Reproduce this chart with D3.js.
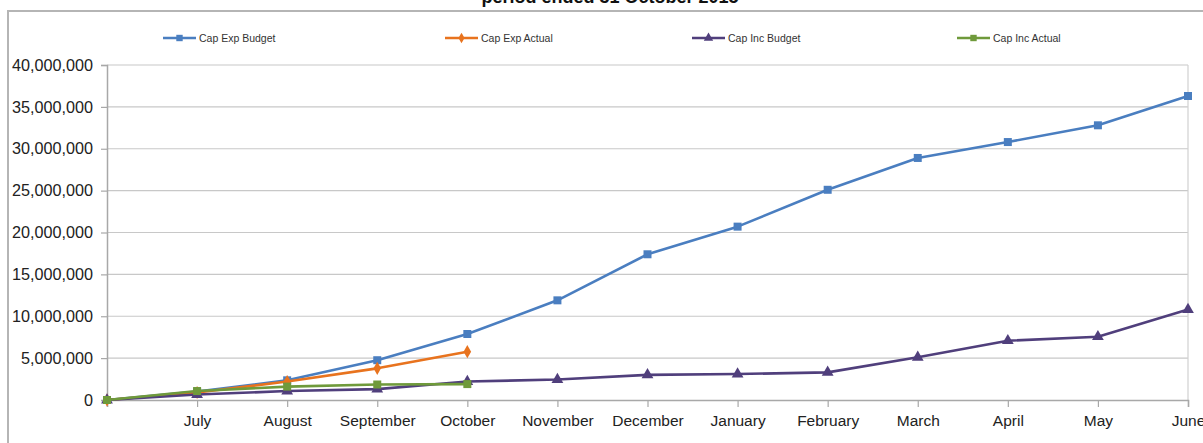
<!DOCTYPE html>
<html>
<head>
<meta charset="utf-8">
<script src="https://cdn.jsdelivr.net/npm/d3@7"></script>
<style>
  html, body { margin: 0; padding: 0; background: #fff; }
  svg { display: block; font-family: "Liberation Sans", Arial, sans-serif; }
</style>
</head>
<body>
<svg id="chart" width="1203" height="443"></svg>
<script>
// Cumulative capital expenditure and income, budget vs actual, by month
const months = ["", "July", "August", "September", "October", "November", "December",
                "January", "February", "March", "April", "May", "June"];

const capExpBudget = [0, 1000000, 2350000, 4750000, 7880000, 11900000, 17400000,
                      20700000, 25100000, 28900000, 30800000, 32800000, 36300000];
const capExpActual = [0, 900000, 2200000, 3780000, 5770000, null, null,
                      null, null, null, null, null, null];
const capIncBudget = [0, 650000, 1070000, 1300000, 2200000, 2450000, 3000000,
                      3100000, 3300000, 5100000, 7080000, 7560000, 10800000];
const capIncActual = [0, 1070000, 1600000, 1850000, 1900000, null, null,
                      null, null, null, null, null, null];

const yTicks = [0, 5000000, 10000000, 15000000, 20000000, 25000000, 30000000, 35000000, 40000000];

const seriesNames = ["Cap Exp Budget", "Cap Exp Actual", "Cap Inc Budget", "Cap Inc Actual"];
const seriesColors = ["#4a7ec0", "#e8731e", "#503f7c", "#6f9a3b"];
const seriesMarkers = ["square", "diamond", "triangle", "square"];

const series = [capExpBudget, capExpActual, capIncBudget, capIncActual].map((vals, i) => ({
  name: seriesNames[i], color: seriesColors[i], marker: seriesMarkers[i],
  points: vals.map((v, j) => ({ month: months[j], idx: j, value: v }))
}));

const svg = d3.select("#chart");

// Outer chart frame (left and top edges visible)
svg.append("path")
  .attr("d", "M8,443 L8,11 L1203,11")
  .attr("fill", "none").attr("stroke", "#b5b5b5").attr("stroke-width", 2);

// Title, clipped by the top edge
svg.append("text")
  .attr("x", 610).attr("y", 3)
  .attr("text-anchor", "middle")
  .attr("font-size", 18).attr("font-weight", "bold").attr("fill", "#111")
  .text("period ended 31 October 2015");

const x = d3.scalePoint().domain(d3.range(months.length)).range([107, 1188]);
const y = d3.scaleLinear().domain([0, 40000000]).range([400, 65]);

// Horizontal gridlines
svg.append("g").selectAll("line").data(yTicks.filter(t => t > 0)).join("line")
  .attr("x1", 107).attr("x2", 1188)
  .attr("y1", d => y(d)).attr("y2", d => y(d))
  .attr("stroke", "#c8c8c8").attr("stroke-width", 1.2);

// Right border of the plot area
svg.append("line")
  .attr("x1", 1188).attr("x2", 1188).attr("y1", y(40000000)).attr("y2", 400)
  .attr("stroke", "#d0d0d0").attr("stroke-width", 1.2);

// Y axis
const yAxis = d3.axisLeft(y).tickValues(yTicks).tickSize(6).tickPadding(8)
  .tickFormat(d3.format(","));
const gy = svg.append("g").attr("transform", "translate(107,0)").call(yAxis);
gy.select(".domain").attr("stroke", "#a8a8a8").attr("stroke-width", 1.5);
gy.selectAll(".tick line").attr("stroke", "#a8a8a8").attr("stroke-width", 1.2);
gy.selectAll(".tick text").attr("font-size", 16.2).attr("fill", "#222")
  .attr("font-family", "'Liberation Sans', Arial, sans-serif");

// X axis
const xAxis = d3.axisBottom(x).tickSize(7).tickPadding(8)
  .tickFormat(i => months[i]);
const gx = svg.append("g").attr("transform", "translate(0,400)").call(xAxis);
gx.select(".domain").attr("stroke", "#a8a8a8").attr("stroke-width", 1.5);
gx.selectAll(".tick line").attr("stroke", "#a8a8a8").attr("stroke-width", 1.2);
gx.selectAll(".tick text").attr("font-size", 15.5).attr("fill", "#222")
  .attr("font-family", "'Liberation Sans', Arial, sans-serif");

// Marker shapes
function markerPath(kind) {
  if (kind === "square") return d3.symbol().type(d3.symbolSquare).size(64)();
  if (kind === "diamond") return d3.symbol().type(d3.symbolDiamond).size(50)();
  return d3.symbol().type(d3.symbolTriangle).size(60)();
}

const line = d3.line()
  .defined(d => d.value !== null)
  .x(d => x(d.idx)).y(d => y(d.value));

// Series drawn in legend order; later series sit on top
series.forEach(s => {
  const g = svg.append("g");
  g.append("path").datum(s.points)
    .attr("d", line)
    .attr("fill", "none").attr("stroke", s.color)
    .attr("stroke-width", 2.6).attr("stroke-linejoin", "round");
  g.selectAll("path.mk").data(s.points.filter(d => d.value !== null)).join("path")
    .attr("class", "mk")
    .attr("d", markerPath(s.marker))
    .attr("transform", d => `translate(${x(d.idx)},${y(d.value)})`)
    .attr("fill", s.color);
});

// Legend
const legendX = [163, 445, 692, 957];
const legend = svg.append("g");
series.forEach((s, i) => {
  const lg = legend.append("g").attr("transform", `translate(${legendX[i]},38)`);
  lg.append("line").attr("x1", 0).attr("x2", 33).attr("y1", 0).attr("y2", 0)
    .attr("stroke", s.color).attr("stroke-width", 2.6);
  lg.append("path").attr("d", markerPath(s.marker))
    .attr("transform", "translate(16.5,0) scale(0.8)").attr("fill", s.color);
  lg.append("text").attr("x", 36).attr("y", 4)
    .attr("font-size", 10.5).attr("fill", "#333")
    .text(s.name);
});
</script>
</body>
</html>
